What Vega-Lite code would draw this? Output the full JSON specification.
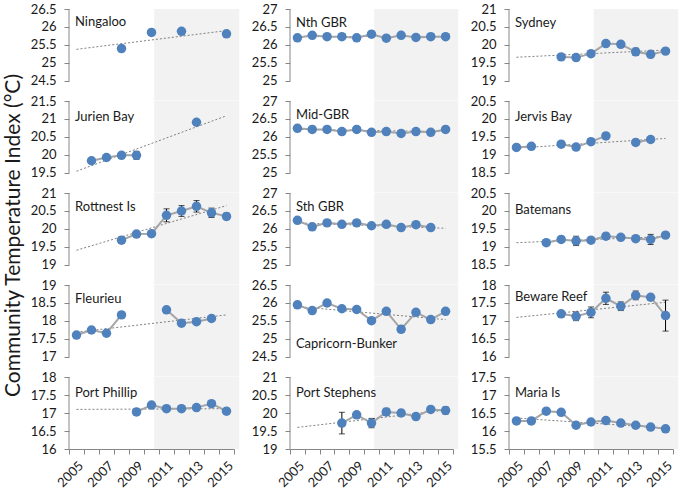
{
"$schema": "https://vega.github.io/schema/vega-lite/v6.json",
"background": "white",
"padding": {"left": 2, "top": 3, "right": 0, "bottom": 0},
"config": {"font": "Lato", "view": {"stroke": null}, "axis": {"grid": false, "domain": false, "ticks": false, "labels": false, "labelOverlap": false, "labelFlush": false, "tickCount": 30, "labelFontSize": 13, "labelColor": "#1a1a1a", "labelPadding": 8, "tickSize": 5, "tickColor": "#868686", "domainColor": "#868686"}},
"datasets": {
"obs": [
{"s":"Ningaloo","yr":2008,"v":25.40,"e":0.03},{"s":"Ningaloo","yr":2009,"v":null,"e":null},{"s":"Ningaloo","yr":2010,"v":25.85,"e":0.03},{"s":"Ningaloo","yr":2011,"v":null,"e":null},{"s":"Ningaloo","yr":2012,"v":25.88,"e":0.03},{"s":"Ningaloo","yr":2013,"v":null,"e":null},{"s":"Ningaloo","yr":2015,"v":25.81,"e":0.03},
{"s":"Jurien Bay","yr":2006,"v":19.84,"e":0.05},{"s":"Jurien Bay","yr":2007,"v":19.93,"e":0.04},{"s":"Jurien Bay","yr":2008,"v":19.99,"e":0.06},{"s":"Jurien Bay","yr":2009,"v":19.99,"e":0.11},{"s":"Jurien Bay","yr":2010,"v":null,"e":null},{"s":"Jurien Bay","yr":2013,"v":20.91,"e":0.03},
{"s":"Rottnest Is","yr":2008,"v":19.69,"e":0.09},{"s":"Rottnest Is","yr":2009,"v":19.86,"e":0.07},{"s":"Rottnest Is","yr":2010,"v":19.87,"e":0.06},{"s":"Rottnest Is","yr":2011,"v":20.38,"e":0.18},{"s":"Rottnest Is","yr":2012,"v":20.50,"e":0.15},{"s":"Rottnest Is","yr":2013,"v":20.63,"e":0.16},{"s":"Rottnest Is","yr":2014,"v":20.45,"e":0.13},{"s":"Rottnest Is","yr":2015,"v":20.35,"e":0.09},
{"s":"Fleurieu","yr":2005,"v":17.61,"e":0.04},{"s":"Fleurieu","yr":2006,"v":17.75,"e":0.05},{"s":"Fleurieu","yr":2007,"v":17.66,"e":0.04},{"s":"Fleurieu","yr":2008,"v":18.17,"e":0.03},{"s":"Fleurieu","yr":2009,"v":null,"e":null},{"s":"Fleurieu","yr":2011,"v":18.31,"e":0.03},{"s":"Fleurieu","yr":2012,"v":17.94,"e":0.06},{"s":"Fleurieu","yr":2013,"v":17.98,"e":0.04},{"s":"Fleurieu","yr":2014,"v":18.07,"e":0.05},
{"s":"Port Phillip","yr":2009,"v":17.03,"e":0.07},{"s":"Port Phillip","yr":2010,"v":17.22,"e":0.06},{"s":"Port Phillip","yr":2011,"v":17.12,"e":0.05},{"s":"Port Phillip","yr":2012,"v":17.12,"e":0.04},{"s":"Port Phillip","yr":2013,"v":17.15,"e":0.04},{"s":"Port Phillip","yr":2014,"v":17.26,"e":0.04},{"s":"Port Phillip","yr":2015,"v":17.05,"e":0.05},
{"s":"Nth GBR","yr":2005,"v":26.20,"e":0.02},{"s":"Nth GBR","yr":2006,"v":26.27,"e":0.02},{"s":"Nth GBR","yr":2007,"v":26.23,"e":0.02},{"s":"Nth GBR","yr":2008,"v":26.23,"e":0.02},{"s":"Nth GBR","yr":2009,"v":26.20,"e":0.02},{"s":"Nth GBR","yr":2010,"v":26.30,"e":0.02},{"s":"Nth GBR","yr":2011,"v":26.19,"e":0.02},{"s":"Nth GBR","yr":2012,"v":26.27,"e":0.02},{"s":"Nth GBR","yr":2013,"v":26.21,"e":0.02},{"s":"Nth GBR","yr":2014,"v":26.23,"e":0.02},{"s":"Nth GBR","yr":2015,"v":26.23,"e":0.02},
{"s":"Mid-GBR","yr":2005,"v":26.24,"e":0.02},{"s":"Mid-GBR","yr":2006,"v":26.21,"e":0.02},{"s":"Mid-GBR","yr":2007,"v":26.21,"e":0.02},{"s":"Mid-GBR","yr":2008,"v":26.15,"e":0.02},{"s":"Mid-GBR","yr":2009,"v":26.21,"e":0.02},{"s":"Mid-GBR","yr":2010,"v":26.13,"e":0.02},{"s":"Mid-GBR","yr":2011,"v":26.15,"e":0.02},{"s":"Mid-GBR","yr":2012,"v":26.10,"e":0.02},{"s":"Mid-GBR","yr":2013,"v":26.15,"e":0.02},{"s":"Mid-GBR","yr":2014,"v":26.13,"e":0.02},{"s":"Mid-GBR","yr":2015,"v":26.21,"e":0.02},
{"s":"Sth GBR","yr":2005,"v":26.24,"e":0.02},{"s":"Sth GBR","yr":2006,"v":26.06,"e":0.02},{"s":"Sth GBR","yr":2007,"v":26.17,"e":0.02},{"s":"Sth GBR","yr":2008,"v":26.13,"e":0.02},{"s":"Sth GBR","yr":2009,"v":26.17,"e":0.02},{"s":"Sth GBR","yr":2010,"v":26.09,"e":0.02},{"s":"Sth GBR","yr":2011,"v":26.13,"e":0.02},{"s":"Sth GBR","yr":2012,"v":26.04,"e":0.02},{"s":"Sth GBR","yr":2013,"v":26.12,"e":0.02},{"s":"Sth GBR","yr":2014,"v":26.04,"e":0.02},
{"s":"Capricorn-Bunker","yr":2005,"v":25.95,"e":0.03},{"s":"Capricorn-Bunker","yr":2006,"v":25.79,"e":0.03},{"s":"Capricorn-Bunker","yr":2007,"v":26.00,"e":0.03},{"s":"Capricorn-Bunker","yr":2008,"v":25.84,"e":0.03},{"s":"Capricorn-Bunker","yr":2009,"v":25.82,"e":0.03},{"s":"Capricorn-Bunker","yr":2010,"v":25.51,"e":0.03},{"s":"Capricorn-Bunker","yr":2011,"v":25.77,"e":0.03},{"s":"Capricorn-Bunker","yr":2012,"v":25.27,"e":0.09},{"s":"Capricorn-Bunker","yr":2013,"v":25.74,"e":0.03},{"s":"Capricorn-Bunker","yr":2014,"v":25.54,"e":0.03},{"s":"Capricorn-Bunker","yr":2015,"v":25.77,"e":0.03},
{"s":"Port Stephens","yr":2008,"v":19.72,"e":0.30},{"s":"Port Stephens","yr":2009,"v":19.95,"e":0.05},{"s":"Port Stephens","yr":2010,"v":19.72,"e":0.13},{"s":"Port Stephens","yr":2011,"v":20.03,"e":0.10},{"s":"Port Stephens","yr":2012,"v":20.00,"e":0.09},{"s":"Port Stephens","yr":2013,"v":19.90,"e":0.06},{"s":"Port Stephens","yr":2014,"v":20.10,"e":0.07},{"s":"Port Stephens","yr":2015,"v":20.07,"e":0.10},
{"s":"Sydney","yr":2008,"v":19.67,"e":0.04},{"s":"Sydney","yr":2009,"v":19.65,"e":0.06},{"s":"Sydney","yr":2010,"v":19.76,"e":0.06},{"s":"Sydney","yr":2011,"v":20.04,"e":0.04},{"s":"Sydney","yr":2012,"v":20.02,"e":0.08},{"s":"Sydney","yr":2013,"v":19.81,"e":0.10},{"s":"Sydney","yr":2014,"v":19.74,"e":0.09},{"s":"Sydney","yr":2015,"v":19.83,"e":0.05},
{"s":"Jervis Bay","yr":2005,"v":19.21,"e":0.03},{"s":"Jervis Bay","yr":2006,"v":19.24,"e":0.03},{"s":"Jervis Bay","yr":2007,"v":null,"e":null},{"s":"Jervis Bay","yr":2008,"v":19.30,"e":0.03},{"s":"Jervis Bay","yr":2009,"v":19.22,"e":0.03},{"s":"Jervis Bay","yr":2010,"v":19.37,"e":0.03},{"s":"Jervis Bay","yr":2011,"v":19.53,"e":0.03},{"s":"Jervis Bay","yr":2012,"v":null,"e":null},{"s":"Jervis Bay","yr":2013,"v":19.35,"e":0.03},{"s":"Jervis Bay","yr":2014,"v":19.43,"e":0.03},
{"s":"Batemans","yr":2007,"v":19.12,"e":0.03},{"s":"Batemans","yr":2008,"v":19.21,"e":0.08},{"s":"Batemans","yr":2009,"v":19.17,"e":0.13},{"s":"Batemans","yr":2010,"v":19.19,"e":0.06},{"s":"Batemans","yr":2011,"v":19.30,"e":0.08},{"s":"Batemans","yr":2012,"v":19.27,"e":0.07},{"s":"Batemans","yr":2013,"v":19.23,"e":0.07},{"s":"Batemans","yr":2014,"v":19.21,"e":0.14},{"s":"Batemans","yr":2015,"v":19.33,"e":0.06},
{"s":"Beware Reef","yr":2008,"v":17.20,"e":0.07},{"s":"Beware Reef","yr":2009,"v":17.13,"e":0.12},{"s":"Beware Reef","yr":2010,"v":17.24,"e":0.15},{"s":"Beware Reef","yr":2011,"v":17.63,"e":0.17},{"s":"Beware Reef","yr":2012,"v":17.41,"e":0.12},{"s":"Beware Reef","yr":2013,"v":17.71,"e":0.12},{"s":"Beware Reef","yr":2014,"v":17.66,"e":0.08},{"s":"Beware Reef","yr":2015,"v":17.15,"e":0.43},
{"s":"Maria Is","yr":2005,"v":16.28,"e":0.03},{"s":"Maria Is","yr":2006,"v":16.28,"e":0.03},{"s":"Maria Is","yr":2007,"v":16.55,"e":0.03},{"s":"Maria Is","yr":2008,"v":16.52,"e":0.03},{"s":"Maria Is","yr":2009,"v":16.16,"e":0.03},{"s":"Maria Is","yr":2010,"v":16.25,"e":0.03},{"s":"Maria Is","yr":2011,"v":16.29,"e":0.05},{"s":"Maria Is","yr":2012,"v":16.22,"e":0.03},{"s":"Maria Is","yr":2013,"v":16.16,"e":0.03},{"s":"Maria Is","yr":2014,"v":16.11,"e":0.03},{"s":"Maria Is","yr":2015,"v":16.06,"e":0.04}
],
"trend": [
{"s":"Ningaloo","t0":25.38,"t1":25.90},{"s":"Jurien Bay","t0":19.55,"t1":21.09},{"s":"Rottnest Is","t0":19.41,"t1":20.65},{"s":"Fleurieu","t0":17.69,"t1":18.17},{"s":"Port Phillip","t0":17.10,"t1":17.12},
{"s":"Nth GBR","t0":26.23,"t1":26.24},{"s":"Mid-GBR","t0":26.21,"t1":26.15},{"s":"Sth GBR","t0":26.17,"t1":26.02},{"s":"Capricorn-Bunker","t0":25.90,"t1":25.54},{"s":"Port Stephens","t0":19.60,"t1":20.08},
{"s":"Sydney","t0":19.66,"t1":19.86},{"s":"Jervis Bay","t0":19.19,"t1":19.46},{"s":"Batemans","t0":19.12,"t1":19.29},{"s":"Beware Reef","t0":17.10,"t1":17.52},{"s":"Maria Is","t0":16.36,"t1":16.08}
]
},
"spacing": 0,
"hconcat": [
{"spacing": 0, "bounds": "flush", "vconcat": [
{"width": 165, "height": 91.5, "layer": [
{"data": {"values": [{}]}, "mark": {"type": "rect", "color": "#f2f2f2"}, "encoding": {"x": {"datum": 2010.18, "type": "quantitative", "scale": {"domain": [2004.5, 2015.5], "nice": false, "zero": false}}, "x2": {"datum": 2015.85}}},
{"data": {"values": [{}]}, "mark": {"type": "rule", "color": "#868686"}, "encoding": {"x": {"datum": 2004.5, "type": "quantitative"}, "y": {"datum": 24.5, "type": "quantitative", "scale": {"domain": [23.9583, 26.5], "nice": false, "zero": false}, "axis": {"values": [24.5, 25, 25.5, 26, 26.5], "tickCount": 30, "labelExpr": "'' + datum.value", "labels": true, "ticks": true, "title": null}}, "y2": {"datum": 26.5}}},
{"data": {"name": "trend"}, "transform": [{"filter": "datum.s == 'Ningaloo'"}], "mark": {"type": "rule", "color": "#808080", "strokeDash": [2, 2]}, "encoding": {"x": {"datum": 2005, "type": "quantitative"}, "x2": {"datum": 2015}, "y": {"field": "t0", "type": "quantitative", "title": null}, "y2": {"field": "t1"}}},
{"data": {"name": "obs"}, "transform": [{"filter": "datum.s == 'Ningaloo'"}], "mark": {"type": "line", "color": "#a5a5a5", "strokeWidth": 2, "invalid": "break-paths-show-domains"}, "encoding": {"x": {"field": "yr", "type": "quantitative", "title": null}, "y": {"field": "v", "type": "quantitative", "title": null}}},
{"data": {"name": "obs"}, "transform": [{"filter": "datum.s == 'Ningaloo' && isValid(datum.v)"}], "mark": {"type": "errorbar", "color": "#000000", "ticks": {"size": 6}, "thickness": 1}, "encoding": {"x": {"field": "yr", "type": "quantitative", "title": null}, "y": {"field": "v", "type": "quantitative", "title": null}, "yError": {"field": "e"}}},
{"data": {"name": "obs"}, "transform": [{"filter": "datum.s == 'Ningaloo' && isValid(datum.v)"}], "mark": {"type": "circle", "color": "#4f81bd", "size": 90, "opacity": 1}, "encoding": {"x": {"field": "yr", "type": "quantitative", "title": null}, "y": {"field": "v", "type": "quantitative", "title": null}}},
{"data": {"values": [{}]}, "mark": {"type": "text", "text": "Ningaloo", "align": "left", "baseline": "middle", "fontSize": 13, "color": "#1a1a1a"}, "encoding": {"x": {"datum": 2004.9, "type": "quantitative"}, "y": {"datum": 26.15, "type": "quantitative"}}}
]},
{"width": 165, "height": 91.5, "layer": [
{"data": {"values": [{}]}, "mark": {"type": "rect", "color": "#f2f2f2"}, "encoding": {"x": {"datum": 2010.18, "type": "quantitative", "scale": {"domain": [2004.5, 2015.5], "nice": false, "zero": false}}, "x2": {"datum": 2015.85}}},
{"data": {"values": [{}]}, "mark": {"type": "rule", "color": "#868686"}, "encoding": {"x": {"datum": 2004.5, "type": "quantitative"}, "y": {"datum": 19.5, "type": "quantitative", "scale": {"domain": [18.9583, 21.5], "nice": false, "zero": false}, "axis": {"values": [19.5, 20, 20.5, 21, 21.5], "tickCount": 30, "labelExpr": "'' + datum.value", "labels": true, "ticks": true, "title": null}}, "y2": {"datum": 21.5}}},
{"data": {"name": "trend"}, "transform": [{"filter": "datum.s == 'Jurien Bay'"}], "mark": {"type": "rule", "color": "#808080", "strokeDash": [2, 2]}, "encoding": {"x": {"datum": 2005, "type": "quantitative"}, "x2": {"datum": 2015}, "y": {"field": "t0", "type": "quantitative", "title": null}, "y2": {"field": "t1"}}},
{"data": {"name": "obs"}, "transform": [{"filter": "datum.s == 'Jurien Bay'"}], "mark": {"type": "line", "color": "#a5a5a5", "strokeWidth": 2, "invalid": "break-paths-show-domains"}, "encoding": {"x": {"field": "yr", "type": "quantitative", "title": null}, "y": {"field": "v", "type": "quantitative", "title": null}}},
{"data": {"name": "obs"}, "transform": [{"filter": "datum.s == 'Jurien Bay' && isValid(datum.v)"}], "mark": {"type": "errorbar", "color": "#000000", "ticks": {"size": 6}, "thickness": 1}, "encoding": {"x": {"field": "yr", "type": "quantitative", "title": null}, "y": {"field": "v", "type": "quantitative", "title": null}, "yError": {"field": "e"}}},
{"data": {"name": "obs"}, "transform": [{"filter": "datum.s == 'Jurien Bay' && isValid(datum.v)"}], "mark": {"type": "circle", "color": "#4f81bd", "size": 90, "opacity": 1}, "encoding": {"x": {"field": "yr", "type": "quantitative", "title": null}, "y": {"field": "v", "type": "quantitative", "title": null}}},
{"data": {"values": [{}]}, "mark": {"type": "text", "text": "Jurien Bay", "align": "left", "baseline": "middle", "fontSize": 13, "color": "#1a1a1a"}, "encoding": {"x": {"datum": 2004.9, "type": "quantitative"}, "y": {"datum": 21.05, "type": "quantitative"}}}
]},
{"width": 165, "height": 91.5, "layer": [
{"data": {"values": [{}]}, "mark": {"type": "rect", "color": "#f2f2f2"}, "encoding": {"x": {"datum": 2010.18, "type": "quantitative", "scale": {"domain": [2004.5, 2015.5], "nice": false, "zero": false}}, "x2": {"datum": 2015.85}}},
{"data": {"values": [{}]}, "mark": {"type": "rule", "color": "#868686"}, "encoding": {"x": {"datum": 2004.5, "type": "quantitative"}, "y": {"datum": 19, "type": "quantitative", "scale": {"domain": [18.4583, 21], "nice": false, "zero": false}, "title": "Community Temperature Index (°C)", "axis": {"values": [19, 19.5, 20, 20.5, 21], "tickCount": 30, "labelExpr": "'' + datum.value", "labels": true, "ticks": true, "title": "Community Temperature Index (°C)", "titleFontSize": 21, "titleFontWeight": "normal", "titleColor": "#1a1a1a", "titlePadding": 7, "titleY": 42}}, "y2": {"datum": 21}}},
{"data": {"name": "trend"}, "transform": [{"filter": "datum.s == 'Rottnest Is'"}], "mark": {"type": "rule", "color": "#808080", "strokeDash": [2, 2]}, "encoding": {"x": {"datum": 2005, "type": "quantitative"}, "x2": {"datum": 2015}, "y": {"field": "t0", "type": "quantitative", "title": "Community Temperature Index (°C)"}, "y2": {"field": "t1"}}},
{"data": {"name": "obs"}, "transform": [{"filter": "datum.s == 'Rottnest Is'"}], "mark": {"type": "line", "color": "#a5a5a5", "strokeWidth": 2, "invalid": "break-paths-show-domains"}, "encoding": {"x": {"field": "yr", "type": "quantitative", "title": null}, "y": {"field": "v", "type": "quantitative", "title": "Community Temperature Index (°C)"}}},
{"data": {"name": "obs"}, "transform": [{"filter": "datum.s == 'Rottnest Is' && isValid(datum.v)"}], "mark": {"type": "errorbar", "color": "#000000", "ticks": {"size": 6}, "thickness": 1}, "encoding": {"x": {"field": "yr", "type": "quantitative", "title": null}, "y": {"field": "v", "type": "quantitative", "title": "Community Temperature Index (°C)"}, "yError": {"field": "e"}}},
{"data": {"name": "obs"}, "transform": [{"filter": "datum.s == 'Rottnest Is' && isValid(datum.v)"}], "mark": {"type": "circle", "color": "#4f81bd", "size": 90, "opacity": 1}, "encoding": {"x": {"field": "yr", "type": "quantitative", "title": null}, "y": {"field": "v", "type": "quantitative", "title": "Community Temperature Index (°C)"}}},
{"data": {"values": [{}]}, "mark": {"type": "text", "text": "Rottnest Is", "align": "left", "baseline": "middle", "fontSize": 13, "color": "#1a1a1a"}, "encoding": {"x": {"datum": 2004.9, "type": "quantitative"}, "y": {"datum": 20.6, "type": "quantitative", "title": "Community Temperature Index (°C)"}}}
]},
{"width": 165, "height": 91.5, "layer": [
{"data": {"values": [{}]}, "mark": {"type": "rect", "color": "#f2f2f2"}, "encoding": {"x": {"datum": 2010.18, "type": "quantitative", "scale": {"domain": [2004.5, 2015.5], "nice": false, "zero": false}}, "x2": {"datum": 2015.85}}},
{"data": {"values": [{}]}, "mark": {"type": "rule", "color": "#868686"}, "encoding": {"x": {"datum": 2004.5, "type": "quantitative"}, "y": {"datum": 17, "type": "quantitative", "scale": {"domain": [16.4583, 19], "nice": false, "zero": false}, "axis": {"values": [17, 17.5, 18, 18.5, 19], "tickCount": 30, "labelExpr": "'' + datum.value", "labels": true, "ticks": true, "title": null}}, "y2": {"datum": 19}}},
{"data": {"name": "trend"}, "transform": [{"filter": "datum.s == 'Fleurieu'"}], "mark": {"type": "rule", "color": "#808080", "strokeDash": [2, 2]}, "encoding": {"x": {"datum": 2005, "type": "quantitative"}, "x2": {"datum": 2015}, "y": {"field": "t0", "type": "quantitative", "title": null}, "y2": {"field": "t1"}}},
{"data": {"name": "obs"}, "transform": [{"filter": "datum.s == 'Fleurieu'"}], "mark": {"type": "line", "color": "#a5a5a5", "strokeWidth": 2, "invalid": "break-paths-show-domains"}, "encoding": {"x": {"field": "yr", "type": "quantitative", "title": null}, "y": {"field": "v", "type": "quantitative", "title": null}}},
{"data": {"name": "obs"}, "transform": [{"filter": "datum.s == 'Fleurieu' && isValid(datum.v)"}], "mark": {"type": "errorbar", "color": "#000000", "ticks": {"size": 6}, "thickness": 1}, "encoding": {"x": {"field": "yr", "type": "quantitative", "title": null}, "y": {"field": "v", "type": "quantitative", "title": null}, "yError": {"field": "e"}}},
{"data": {"name": "obs"}, "transform": [{"filter": "datum.s == 'Fleurieu' && isValid(datum.v)"}], "mark": {"type": "circle", "color": "#4f81bd", "size": 90, "opacity": 1}, "encoding": {"x": {"field": "yr", "type": "quantitative", "title": null}, "y": {"field": "v", "type": "quantitative", "title": null}}},
{"data": {"values": [{}]}, "mark": {"type": "text", "text": "Fleurieu", "align": "left", "baseline": "middle", "fontSize": 13, "color": "#1a1a1a"}, "encoding": {"x": {"datum": 2004.9, "type": "quantitative"}, "y": {"datum": 18.6, "type": "quantitative"}}}
]},
{"width": 165, "height": 72, "layer": [
{"data": {"values": [{}]}, "mark": {"type": "rect", "color": "#f2f2f2"}, "encoding": {"x": {"datum": 2010.18, "type": "quantitative", "scale": {"domain": [2004.5, 2015.5], "nice": false, "zero": false}, "axis": {"values": [2004.5, 2005.5, 2006.5, 2007.5, 2008.5, 2009.5, 2010.5, 2011.5, 2012.5, 2013.5, 2014.5, 2015.5], "tickCount": 30, "labelExpr": "(datum.value + 0.5) % 2 == 1 ? '' + (datum.value + 0.5) : ''", "labelAngle": -45, "labelOffset": 7.5, "labelPadding": 5, "labels": true, "ticks": true, "domain": true, "title": null}}, "x2": {"datum": 2015.85}}},
{"data": {"values": [{}]}, "mark": {"type": "rule", "color": "#868686"}, "encoding": {"x": {"datum": 2004.5, "type": "quantitative"}, "y": {"datum": 16, "type": "quantitative", "scale": {"domain": [16, 18], "nice": false, "zero": false}, "axis": {"values": [16, 16.5, 17, 17.5, 18], "tickCount": 30, "labelExpr": "'' + datum.value", "labels": true, "ticks": true, "title": null}}, "y2": {"datum": 18}}},
{"data": {"name": "trend"}, "transform": [{"filter": "datum.s == 'Port Phillip'"}], "mark": {"type": "rule", "color": "#808080", "strokeDash": [2, 2]}, "encoding": {"x": {"datum": 2005, "type": "quantitative"}, "x2": {"datum": 2015}, "y": {"field": "t0", "type": "quantitative", "title": null}, "y2": {"field": "t1"}}},
{"data": {"name": "obs"}, "transform": [{"filter": "datum.s == 'Port Phillip'"}], "mark": {"type": "line", "color": "#a5a5a5", "strokeWidth": 2, "invalid": "break-paths-show-domains"}, "encoding": {"x": {"field": "yr", "type": "quantitative", "title": null}, "y": {"field": "v", "type": "quantitative", "title": null}}},
{"data": {"name": "obs"}, "transform": [{"filter": "datum.s == 'Port Phillip' && isValid(datum.v)"}], "mark": {"type": "errorbar", "color": "#000000", "ticks": {"size": 6}, "thickness": 1}, "encoding": {"x": {"field": "yr", "type": "quantitative", "title": null}, "y": {"field": "v", "type": "quantitative", "title": null}, "yError": {"field": "e"}}},
{"data": {"name": "obs"}, "transform": [{"filter": "datum.s == 'Port Phillip' && isValid(datum.v)"}], "mark": {"type": "circle", "color": "#4f81bd", "size": 90, "opacity": 1}, "encoding": {"x": {"field": "yr", "type": "quantitative", "title": null}, "y": {"field": "v", "type": "quantitative", "title": null}}},
{"data": {"values": [{}]}, "mark": {"type": "text", "text": "Port Phillip", "align": "left", "baseline": "middle", "fontSize": 13, "color": "#1a1a1a"}, "encoding": {"x": {"datum": 2004.9, "type": "quantitative"}, "y": {"datum": 17.55, "type": "quantitative"}}}
]}
]},
{"spacing": 0, "bounds": "flush", "vconcat": [
{"width": 163, "height": 91.5, "layer": [
{"data": {"values": [{}]}, "mark": {"type": "rect", "color": "#f2f2f2"}, "encoding": {"x": {"datum": 2010.18, "type": "quantitative", "scale": {"domain": [2004.5, 2015.5], "nice": false, "zero": false}}, "x2": {"datum": 2015.85}}},
{"data": {"values": [{}]}, "mark": {"type": "rule", "color": "#868686"}, "encoding": {"x": {"datum": 2004.5, "type": "quantitative"}, "y": {"datum": 25, "type": "quantitative", "scale": {"domain": [24.4583, 27], "nice": false, "zero": false}, "axis": {"values": [25, 25.5, 26, 26.5, 27], "tickCount": 30, "labelExpr": "'' + datum.value", "labels": true, "ticks": true, "title": null}}, "y2": {"datum": 27}}},
{"data": {"name": "trend"}, "transform": [{"filter": "datum.s == 'Nth GBR'"}], "mark": {"type": "rule", "color": "#808080", "strokeDash": [2, 2]}, "encoding": {"x": {"datum": 2005, "type": "quantitative"}, "x2": {"datum": 2015}, "y": {"field": "t0", "type": "quantitative", "title": null}, "y2": {"field": "t1"}}},
{"data": {"name": "obs"}, "transform": [{"filter": "datum.s == 'Nth GBR'"}], "mark": {"type": "line", "color": "#a5a5a5", "strokeWidth": 2, "invalid": "break-paths-show-domains"}, "encoding": {"x": {"field": "yr", "type": "quantitative", "title": null}, "y": {"field": "v", "type": "quantitative", "title": null}}},
{"data": {"name": "obs"}, "transform": [{"filter": "datum.s == 'Nth GBR' && isValid(datum.v)"}], "mark": {"type": "errorbar", "color": "#000000", "ticks": {"size": 6}, "thickness": 1}, "encoding": {"x": {"field": "yr", "type": "quantitative", "title": null}, "y": {"field": "v", "type": "quantitative", "title": null}, "yError": {"field": "e"}}},
{"data": {"name": "obs"}, "transform": [{"filter": "datum.s == 'Nth GBR' && isValid(datum.v)"}], "mark": {"type": "circle", "color": "#4f81bd", "size": 90, "opacity": 1}, "encoding": {"x": {"field": "yr", "type": "quantitative", "title": null}, "y": {"field": "v", "type": "quantitative", "title": null}}},
{"data": {"values": [{}]}, "mark": {"type": "text", "text": "Nth GBR", "align": "left", "baseline": "middle", "fontSize": 13, "color": "#1a1a1a"}, "encoding": {"x": {"datum": 2004.9, "type": "quantitative"}, "y": {"datum": 26.6, "type": "quantitative"}}}
]},
{"width": 163, "height": 91.5, "layer": [
{"data": {"values": [{}]}, "mark": {"type": "rect", "color": "#f2f2f2"}, "encoding": {"x": {"datum": 2010.18, "type": "quantitative", "scale": {"domain": [2004.5, 2015.5], "nice": false, "zero": false}}, "x2": {"datum": 2015.85}}},
{"data": {"values": [{}]}, "mark": {"type": "rule", "color": "#868686"}, "encoding": {"x": {"datum": 2004.5, "type": "quantitative"}, "y": {"datum": 25, "type": "quantitative", "scale": {"domain": [24.4583, 27], "nice": false, "zero": false}, "axis": {"values": [25, 25.5, 26, 26.5, 27], "tickCount": 30, "labelExpr": "'' + datum.value", "labels": true, "ticks": true, "title": null}}, "y2": {"datum": 27}}},
{"data": {"name": "trend"}, "transform": [{"filter": "datum.s == 'Mid-GBR'"}], "mark": {"type": "rule", "color": "#808080", "strokeDash": [2, 2]}, "encoding": {"x": {"datum": 2005, "type": "quantitative"}, "x2": {"datum": 2015}, "y": {"field": "t0", "type": "quantitative", "title": null}, "y2": {"field": "t1"}}},
{"data": {"name": "obs"}, "transform": [{"filter": "datum.s == 'Mid-GBR'"}], "mark": {"type": "line", "color": "#a5a5a5", "strokeWidth": 2, "invalid": "break-paths-show-domains"}, "encoding": {"x": {"field": "yr", "type": "quantitative", "title": null}, "y": {"field": "v", "type": "quantitative", "title": null}}},
{"data": {"name": "obs"}, "transform": [{"filter": "datum.s == 'Mid-GBR' && isValid(datum.v)"}], "mark": {"type": "errorbar", "color": "#000000", "ticks": {"size": 6}, "thickness": 1}, "encoding": {"x": {"field": "yr", "type": "quantitative", "title": null}, "y": {"field": "v", "type": "quantitative", "title": null}, "yError": {"field": "e"}}},
{"data": {"name": "obs"}, "transform": [{"filter": "datum.s == 'Mid-GBR' && isValid(datum.v)"}], "mark": {"type": "circle", "color": "#4f81bd", "size": 90, "opacity": 1}, "encoding": {"x": {"field": "yr", "type": "quantitative", "title": null}, "y": {"field": "v", "type": "quantitative", "title": null}}},
{"data": {"values": [{}]}, "mark": {"type": "text", "text": "Mid-GBR", "align": "left", "baseline": "middle", "fontSize": 13, "color": "#1a1a1a"}, "encoding": {"x": {"datum": 2004.9, "type": "quantitative"}, "y": {"datum": 26.6, "type": "quantitative"}}}
]},
{"width": 163, "height": 91.5, "layer": [
{"data": {"values": [{}]}, "mark": {"type": "rect", "color": "#f2f2f2"}, "encoding": {"x": {"datum": 2010.18, "type": "quantitative", "scale": {"domain": [2004.5, 2015.5], "nice": false, "zero": false}}, "x2": {"datum": 2015.85}}},
{"data": {"values": [{}]}, "mark": {"type": "rule", "color": "#868686"}, "encoding": {"x": {"datum": 2004.5, "type": "quantitative"}, "y": {"datum": 25, "type": "quantitative", "scale": {"domain": [24.4583, 27], "nice": false, "zero": false}, "axis": {"values": [25, 25.5, 26, 26.5, 27], "tickCount": 30, "labelExpr": "'' + datum.value", "labels": true, "ticks": true, "title": null}}, "y2": {"datum": 27}}},
{"data": {"name": "trend"}, "transform": [{"filter": "datum.s == 'Sth GBR'"}], "mark": {"type": "rule", "color": "#808080", "strokeDash": [2, 2]}, "encoding": {"x": {"datum": 2005, "type": "quantitative"}, "x2": {"datum": 2015}, "y": {"field": "t0", "type": "quantitative", "title": null}, "y2": {"field": "t1"}}},
{"data": {"name": "obs"}, "transform": [{"filter": "datum.s == 'Sth GBR'"}], "mark": {"type": "line", "color": "#a5a5a5", "strokeWidth": 2, "invalid": "break-paths-show-domains"}, "encoding": {"x": {"field": "yr", "type": "quantitative", "title": null}, "y": {"field": "v", "type": "quantitative", "title": null}}},
{"data": {"name": "obs"}, "transform": [{"filter": "datum.s == 'Sth GBR' && isValid(datum.v)"}], "mark": {"type": "errorbar", "color": "#000000", "ticks": {"size": 6}, "thickness": 1}, "encoding": {"x": {"field": "yr", "type": "quantitative", "title": null}, "y": {"field": "v", "type": "quantitative", "title": null}, "yError": {"field": "e"}}},
{"data": {"name": "obs"}, "transform": [{"filter": "datum.s == 'Sth GBR' && isValid(datum.v)"}], "mark": {"type": "circle", "color": "#4f81bd", "size": 90, "opacity": 1}, "encoding": {"x": {"field": "yr", "type": "quantitative", "title": null}, "y": {"field": "v", "type": "quantitative", "title": null}}},
{"data": {"values": [{}]}, "mark": {"type": "text", "text": "Sth GBR", "align": "left", "baseline": "middle", "fontSize": 13, "color": "#1a1a1a"}, "encoding": {"x": {"datum": 2004.9, "type": "quantitative"}, "y": {"datum": 26.6, "type": "quantitative"}}}
]},
{"width": 163, "height": 91.5, "layer": [
{"data": {"values": [{}]}, "mark": {"type": "rect", "color": "#f2f2f2"}, "encoding": {"x": {"datum": 2010.18, "type": "quantitative", "scale": {"domain": [2004.5, 2015.5], "nice": false, "zero": false}}, "x2": {"datum": 2015.85}}},
{"data": {"values": [{}]}, "mark": {"type": "rule", "color": "#868686"}, "encoding": {"x": {"datum": 2004.5, "type": "quantitative"}, "y": {"datum": 24.5, "type": "quantitative", "scale": {"domain": [23.9583, 26.5], "nice": false, "zero": false}, "axis": {"values": [24.5, 25, 25.5, 26, 26.5], "tickCount": 30, "labelExpr": "'' + datum.value", "labels": true, "ticks": true, "title": null}}, "y2": {"datum": 26.5}}},
{"data": {"name": "trend"}, "transform": [{"filter": "datum.s == 'Capricorn-Bunker'"}], "mark": {"type": "rule", "color": "#808080", "strokeDash": [2, 2]}, "encoding": {"x": {"datum": 2005, "type": "quantitative"}, "x2": {"datum": 2015}, "y": {"field": "t0", "type": "quantitative", "title": null}, "y2": {"field": "t1"}}},
{"data": {"name": "obs"}, "transform": [{"filter": "datum.s == 'Capricorn-Bunker'"}], "mark": {"type": "line", "color": "#a5a5a5", "strokeWidth": 2, "invalid": "break-paths-show-domains"}, "encoding": {"x": {"field": "yr", "type": "quantitative", "title": null}, "y": {"field": "v", "type": "quantitative", "title": null}}},
{"data": {"name": "obs"}, "transform": [{"filter": "datum.s == 'Capricorn-Bunker' && isValid(datum.v)"}], "mark": {"type": "errorbar", "color": "#000000", "ticks": {"size": 6}, "thickness": 1}, "encoding": {"x": {"field": "yr", "type": "quantitative", "title": null}, "y": {"field": "v", "type": "quantitative", "title": null}, "yError": {"field": "e"}}},
{"data": {"name": "obs"}, "transform": [{"filter": "datum.s == 'Capricorn-Bunker' && isValid(datum.v)"}], "mark": {"type": "circle", "color": "#4f81bd", "size": 90, "opacity": 1}, "encoding": {"x": {"field": "yr", "type": "quantitative", "title": null}, "y": {"field": "v", "type": "quantitative", "title": null}}},
{"data": {"values": [{}]}, "mark": {"type": "text", "text": "Capricorn-Bunker", "align": "left", "baseline": "middle", "fontSize": 13, "color": "#1a1a1a"}, "encoding": {"x": {"datum": 2004.9, "type": "quantitative"}, "y": {"datum": 24.87, "type": "quantitative"}}}
]},
{"width": 163, "height": 72, "layer": [
{"data": {"values": [{}]}, "mark": {"type": "rect", "color": "#f2f2f2"}, "encoding": {"x": {"datum": 2010.18, "type": "quantitative", "scale": {"domain": [2004.5, 2015.5], "nice": false, "zero": false}, "axis": {"values": [2004.5, 2005.5, 2006.5, 2007.5, 2008.5, 2009.5, 2010.5, 2011.5, 2012.5, 2013.5, 2014.5, 2015.5], "tickCount": 30, "labelExpr": "(datum.value + 0.5) % 2 == 1 ? '' + (datum.value + 0.5) : ''", "labelAngle": -45, "labelOffset": 7.4, "labelPadding": 5, "labels": true, "ticks": true, "domain": true, "title": null}}, "x2": {"datum": 2015.85}}},
{"data": {"values": [{}]}, "mark": {"type": "rule", "color": "#868686"}, "encoding": {"x": {"datum": 2004.5, "type": "quantitative"}, "y": {"datum": 19, "type": "quantitative", "scale": {"domain": [19, 21], "nice": false, "zero": false}, "axis": {"values": [19, 19.5, 20, 20.5, 21], "tickCount": 30, "labelExpr": "'' + datum.value", "labels": true, "ticks": true, "title": null}}, "y2": {"datum": 21}}},
{"data": {"name": "trend"}, "transform": [{"filter": "datum.s == 'Port Stephens'"}], "mark": {"type": "rule", "color": "#808080", "strokeDash": [2, 2]}, "encoding": {"x": {"datum": 2005, "type": "quantitative"}, "x2": {"datum": 2015}, "y": {"field": "t0", "type": "quantitative", "title": null}, "y2": {"field": "t1"}}},
{"data": {"name": "obs"}, "transform": [{"filter": "datum.s == 'Port Stephens'"}], "mark": {"type": "line", "color": "#a5a5a5", "strokeWidth": 2, "invalid": "break-paths-show-domains"}, "encoding": {"x": {"field": "yr", "type": "quantitative", "title": null}, "y": {"field": "v", "type": "quantitative", "title": null}}},
{"data": {"name": "obs"}, "transform": [{"filter": "datum.s == 'Port Stephens' && isValid(datum.v)"}], "mark": {"type": "errorbar", "color": "#000000", "ticks": {"size": 6}, "thickness": 1}, "encoding": {"x": {"field": "yr", "type": "quantitative", "title": null}, "y": {"field": "v", "type": "quantitative", "title": null}, "yError": {"field": "e"}}},
{"data": {"name": "obs"}, "transform": [{"filter": "datum.s == 'Port Stephens' && isValid(datum.v)"}], "mark": {"type": "circle", "color": "#4f81bd", "size": 90, "opacity": 1}, "encoding": {"x": {"field": "yr", "type": "quantitative", "title": null}, "y": {"field": "v", "type": "quantitative", "title": null}}},
{"data": {"values": [{}]}, "mark": {"type": "text", "text": "Port Stephens", "align": "left", "baseline": "middle", "fontSize": 13, "color": "#1a1a1a"}, "encoding": {"x": {"datum": 2004.9, "type": "quantitative"}, "y": {"datum": 20.55, "type": "quantitative"}}}
]}
]},
{"spacing": 0, "bounds": "flush", "vconcat": [
{"width": 164, "height": 91.5, "layer": [
{"data": {"values": [{}]}, "mark": {"type": "rect", "color": "#f2f2f2"}, "encoding": {"x": {"datum": 2010.18, "type": "quantitative", "scale": {"domain": [2004.5, 2015.5], "nice": false, "zero": false}}, "x2": {"datum": 2015.85}}},
{"data": {"values": [{}]}, "mark": {"type": "rule", "color": "#868686"}, "encoding": {"x": {"datum": 2004.5, "type": "quantitative"}, "y": {"datum": 19, "type": "quantitative", "scale": {"domain": [18.4583, 21], "nice": false, "zero": false}, "axis": {"values": [19, 19.5, 20, 20.5, 21], "tickCount": 30, "labelExpr": "'' + datum.value", "labels": true, "ticks": true, "title": null}}, "y2": {"datum": 21}}},
{"data": {"name": "trend"}, "transform": [{"filter": "datum.s == 'Sydney'"}], "mark": {"type": "rule", "color": "#808080", "strokeDash": [2, 2]}, "encoding": {"x": {"datum": 2005, "type": "quantitative"}, "x2": {"datum": 2015}, "y": {"field": "t0", "type": "quantitative", "title": null}, "y2": {"field": "t1"}}},
{"data": {"name": "obs"}, "transform": [{"filter": "datum.s == 'Sydney'"}], "mark": {"type": "line", "color": "#a5a5a5", "strokeWidth": 2, "invalid": "break-paths-show-domains"}, "encoding": {"x": {"field": "yr", "type": "quantitative", "title": null}, "y": {"field": "v", "type": "quantitative", "title": null}}},
{"data": {"name": "obs"}, "transform": [{"filter": "datum.s == 'Sydney' && isValid(datum.v)"}], "mark": {"type": "errorbar", "color": "#000000", "ticks": {"size": 6}, "thickness": 1}, "encoding": {"x": {"field": "yr", "type": "quantitative", "title": null}, "y": {"field": "v", "type": "quantitative", "title": null}, "yError": {"field": "e"}}},
{"data": {"name": "obs"}, "transform": [{"filter": "datum.s == 'Sydney' && isValid(datum.v)"}], "mark": {"type": "circle", "color": "#4f81bd", "size": 90, "opacity": 1}, "encoding": {"x": {"field": "yr", "type": "quantitative", "title": null}, "y": {"field": "v", "type": "quantitative", "title": null}}},
{"data": {"values": [{}]}, "mark": {"type": "text", "text": "Sydney", "align": "left", "baseline": "middle", "fontSize": 13, "color": "#1a1a1a"}, "encoding": {"x": {"datum": 2004.9, "type": "quantitative"}, "y": {"datum": 20.6, "type": "quantitative"}}}
]},
{"width": 164, "height": 91.5, "layer": [
{"data": {"values": [{}]}, "mark": {"type": "rect", "color": "#f2f2f2"}, "encoding": {"x": {"datum": 2010.18, "type": "quantitative", "scale": {"domain": [2004.5, 2015.5], "nice": false, "zero": false}}, "x2": {"datum": 2015.85}}},
{"data": {"values": [{}]}, "mark": {"type": "rule", "color": "#868686"}, "encoding": {"x": {"datum": 2004.5, "type": "quantitative"}, "y": {"datum": 18.5, "type": "quantitative", "scale": {"domain": [17.9583, 20.5], "nice": false, "zero": false}, "axis": {"values": [18.5, 19, 19.5, 20, 20.5], "tickCount": 30, "labelExpr": "'' + datum.value", "labels": true, "ticks": true, "title": null}}, "y2": {"datum": 20.5}}},
{"data": {"name": "trend"}, "transform": [{"filter": "datum.s == 'Jervis Bay'"}], "mark": {"type": "rule", "color": "#808080", "strokeDash": [2, 2]}, "encoding": {"x": {"datum": 2005, "type": "quantitative"}, "x2": {"datum": 2015}, "y": {"field": "t0", "type": "quantitative", "title": null}, "y2": {"field": "t1"}}},
{"data": {"name": "obs"}, "transform": [{"filter": "datum.s == 'Jervis Bay'"}], "mark": {"type": "line", "color": "#a5a5a5", "strokeWidth": 2, "invalid": "break-paths-show-domains"}, "encoding": {"x": {"field": "yr", "type": "quantitative", "title": null}, "y": {"field": "v", "type": "quantitative", "title": null}}},
{"data": {"name": "obs"}, "transform": [{"filter": "datum.s == 'Jervis Bay' && isValid(datum.v)"}], "mark": {"type": "errorbar", "color": "#000000", "ticks": {"size": 6}, "thickness": 1}, "encoding": {"x": {"field": "yr", "type": "quantitative", "title": null}, "y": {"field": "v", "type": "quantitative", "title": null}, "yError": {"field": "e"}}},
{"data": {"name": "obs"}, "transform": [{"filter": "datum.s == 'Jervis Bay' && isValid(datum.v)"}], "mark": {"type": "circle", "color": "#4f81bd", "size": 90, "opacity": 1}, "encoding": {"x": {"field": "yr", "type": "quantitative", "title": null}, "y": {"field": "v", "type": "quantitative", "title": null}}},
{"data": {"values": [{}]}, "mark": {"type": "text", "text": "Jervis Bay", "align": "left", "baseline": "middle", "fontSize": 13, "color": "#1a1a1a"}, "encoding": {"x": {"datum": 2004.9, "type": "quantitative"}, "y": {"datum": 20.05, "type": "quantitative"}}}
]},
{"width": 164, "height": 91.5, "layer": [
{"data": {"values": [{}]}, "mark": {"type": "rect", "color": "#f2f2f2"}, "encoding": {"x": {"datum": 2010.18, "type": "quantitative", "scale": {"domain": [2004.5, 2015.5], "nice": false, "zero": false}}, "x2": {"datum": 2015.85}}},
{"data": {"values": [{}]}, "mark": {"type": "rule", "color": "#868686"}, "encoding": {"x": {"datum": 2004.5, "type": "quantitative"}, "y": {"datum": 18.5, "type": "quantitative", "scale": {"domain": [17.9583, 20.5], "nice": false, "zero": false}, "axis": {"values": [18.5, 19, 19.5, 20, 20.5], "tickCount": 30, "labelExpr": "'' + datum.value", "labels": true, "ticks": true, "title": null}}, "y2": {"datum": 20.5}}},
{"data": {"name": "trend"}, "transform": [{"filter": "datum.s == 'Batemans'"}], "mark": {"type": "rule", "color": "#808080", "strokeDash": [2, 2]}, "encoding": {"x": {"datum": 2005, "type": "quantitative"}, "x2": {"datum": 2015}, "y": {"field": "t0", "type": "quantitative", "title": null}, "y2": {"field": "t1"}}},
{"data": {"name": "obs"}, "transform": [{"filter": "datum.s == 'Batemans'"}], "mark": {"type": "line", "color": "#a5a5a5", "strokeWidth": 2, "invalid": "break-paths-show-domains"}, "encoding": {"x": {"field": "yr", "type": "quantitative", "title": null}, "y": {"field": "v", "type": "quantitative", "title": null}}},
{"data": {"name": "obs"}, "transform": [{"filter": "datum.s == 'Batemans' && isValid(datum.v)"}], "mark": {"type": "errorbar", "color": "#000000", "ticks": {"size": 6}, "thickness": 1}, "encoding": {"x": {"field": "yr", "type": "quantitative", "title": null}, "y": {"field": "v", "type": "quantitative", "title": null}, "yError": {"field": "e"}}},
{"data": {"name": "obs"}, "transform": [{"filter": "datum.s == 'Batemans' && isValid(datum.v)"}], "mark": {"type": "circle", "color": "#4f81bd", "size": 90, "opacity": 1}, "encoding": {"x": {"field": "yr", "type": "quantitative", "title": null}, "y": {"field": "v", "type": "quantitative", "title": null}}},
{"data": {"values": [{}]}, "mark": {"type": "text", "text": "Batemans", "align": "left", "baseline": "middle", "fontSize": 13, "color": "#1a1a1a"}, "encoding": {"x": {"datum": 2004.9, "type": "quantitative"}, "y": {"datum": 20.03, "type": "quantitative"}}}
]},
{"width": 164, "height": 91.5, "layer": [
{"data": {"values": [{}]}, "mark": {"type": "rect", "color": "#f2f2f2"}, "encoding": {"x": {"datum": 2010.18, "type": "quantitative", "scale": {"domain": [2004.5, 2015.5], "nice": false, "zero": false}}, "x2": {"datum": 2015.85}}},
{"data": {"values": [{}]}, "mark": {"type": "rule", "color": "#868686"}, "encoding": {"x": {"datum": 2004.5, "type": "quantitative"}, "y": {"datum": 16, "type": "quantitative", "scale": {"domain": [15.4583, 18], "nice": false, "zero": false}, "axis": {"values": [16, 16.5, 17, 17.5, 18], "tickCount": 30, "labelExpr": "'' + datum.value", "labels": true, "ticks": true, "title": null}}, "y2": {"datum": 18}}},
{"data": {"name": "trend"}, "transform": [{"filter": "datum.s == 'Beware Reef'"}], "mark": {"type": "rule", "color": "#808080", "strokeDash": [2, 2]}, "encoding": {"x": {"datum": 2005, "type": "quantitative"}, "x2": {"datum": 2015}, "y": {"field": "t0", "type": "quantitative", "title": null}, "y2": {"field": "t1"}}},
{"data": {"name": "obs"}, "transform": [{"filter": "datum.s == 'Beware Reef'"}], "mark": {"type": "line", "color": "#a5a5a5", "strokeWidth": 2, "invalid": "break-paths-show-domains"}, "encoding": {"x": {"field": "yr", "type": "quantitative", "title": null}, "y": {"field": "v", "type": "quantitative", "title": null}}},
{"data": {"name": "obs"}, "transform": [{"filter": "datum.s == 'Beware Reef' && isValid(datum.v)"}], "mark": {"type": "errorbar", "color": "#000000", "ticks": {"size": 6}, "thickness": 1}, "encoding": {"x": {"field": "yr", "type": "quantitative", "title": null}, "y": {"field": "v", "type": "quantitative", "title": null}, "yError": {"field": "e"}}},
{"data": {"name": "obs"}, "transform": [{"filter": "datum.s == 'Beware Reef' && isValid(datum.v)"}], "mark": {"type": "circle", "color": "#4f81bd", "size": 90, "opacity": 1}, "encoding": {"x": {"field": "yr", "type": "quantitative", "title": null}, "y": {"field": "v", "type": "quantitative", "title": null}}},
{"data": {"values": [{}]}, "mark": {"type": "text", "text": "Beware Reef", "align": "left", "baseline": "middle", "fontSize": 13, "color": "#1a1a1a"}, "encoding": {"x": {"datum": 2004.9, "type": "quantitative"}, "y": {"datum": 17.67, "type": "quantitative"}}}
]},
{"width": 164, "height": 72, "layer": [
{"data": {"values": [{}]}, "mark": {"type": "rect", "color": "#f2f2f2"}, "encoding": {"x": {"datum": 2010.18, "type": "quantitative", "scale": {"domain": [2004.5, 2015.5], "nice": false, "zero": false}, "axis": {"values": [2004.5, 2005.5, 2006.5, 2007.5, 2008.5, 2009.5, 2010.5, 2011.5, 2012.5, 2013.5, 2014.5, 2015.5], "tickCount": 30, "labelExpr": "(datum.value + 0.5) % 2 == 1 ? '' + (datum.value + 0.5) : ''", "labelAngle": -45, "labelOffset": 7.45, "labelPadding": 5, "labels": true, "ticks": true, "domain": true, "title": null}}, "x2": {"datum": 2015.85}}},
{"data": {"values": [{}]}, "mark": {"type": "rule", "color": "#868686"}, "encoding": {"x": {"datum": 2004.5, "type": "quantitative"}, "y": {"datum": 15.5, "type": "quantitative", "scale": {"domain": [15.5, 17.5], "nice": false, "zero": false}, "axis": {"values": [15.5, 16, 16.5, 17, 17.5], "tickCount": 30, "labelExpr": "'' + datum.value", "labels": true, "ticks": true, "title": null}}, "y2": {"datum": 17.5}}},
{"data": {"name": "trend"}, "transform": [{"filter": "datum.s == 'Maria Is'"}], "mark": {"type": "rule", "color": "#808080", "strokeDash": [2, 2]}, "encoding": {"x": {"datum": 2005, "type": "quantitative"}, "x2": {"datum": 2015}, "y": {"field": "t0", "type": "quantitative", "title": null}, "y2": {"field": "t1"}}},
{"data": {"name": "obs"}, "transform": [{"filter": "datum.s == 'Maria Is'"}], "mark": {"type": "line", "color": "#a5a5a5", "strokeWidth": 2, "invalid": "break-paths-show-domains"}, "encoding": {"x": {"field": "yr", "type": "quantitative", "title": null}, "y": {"field": "v", "type": "quantitative", "title": null}}},
{"data": {"name": "obs"}, "transform": [{"filter": "datum.s == 'Maria Is' && isValid(datum.v)"}], "mark": {"type": "errorbar", "color": "#000000", "ticks": {"size": 6}, "thickness": 1}, "encoding": {"x": {"field": "yr", "type": "quantitative", "title": null}, "y": {"field": "v", "type": "quantitative", "title": null}, "yError": {"field": "e"}}},
{"data": {"name": "obs"}, "transform": [{"filter": "datum.s == 'Maria Is' && isValid(datum.v)"}], "mark": {"type": "circle", "color": "#4f81bd", "size": 90, "opacity": 1}, "encoding": {"x": {"field": "yr", "type": "quantitative", "title": null}, "y": {"field": "v", "type": "quantitative", "title": null}}},
{"data": {"values": [{}]}, "mark": {"type": "text", "text": "Maria Is", "align": "left", "baseline": "middle", "fontSize": 13, "color": "#1a1a1a"}, "encoding": {"x": {"datum": 2004.9, "type": "quantitative"}, "y": {"datum": 17.05, "type": "quantitative"}}}
]}
]}
]
}
